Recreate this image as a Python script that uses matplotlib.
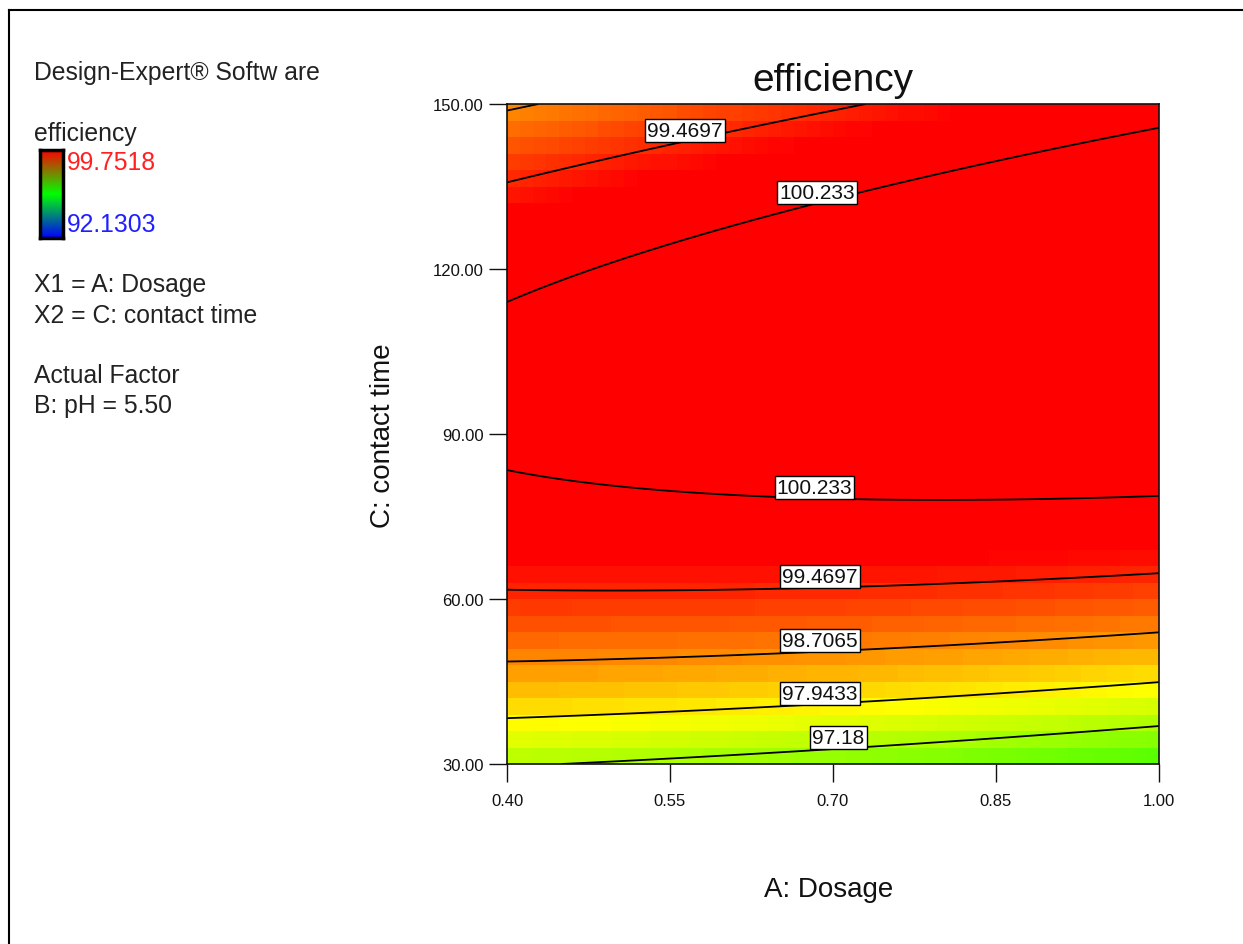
import numpy as np
import matplotlib
matplotlib.use("Agg")
import matplotlib.pyplot as plt
from matplotlib.colors import LinearSegmentedColormap, Normalize
from matplotlib.transforms import offset_copy
from matplotlib.lines import Line2D

plt.rcParams['font.family'] = ['Liberation Sans', 'DejaVu Sans']

# ---------------- data ----------------
# response-surface coefficients (coded units)
coef_b0 = 100.57
coef_A = 0.1575
coef_C = 1.245
coef_AC = 0.543
coef_AA = -0.074
coef_CC = -2.415

dosage_range = [0.40, 1.00]
time_range = [30.0, 150.0]

contour_levels = [97.18, 97.9433, 98.7065, 99.4697, 100.233]
label_points = [(0.561, 145.5), (0.683, 133.5), (0.683, 78.0), (0.688, 62.2),
                (0.688, 50.6), (0.688, 40.8), (0.705, 32.8)]

color_min = 92.1303
color_max = 99.7518

x_ticks = [0.40, 0.55, 0.70, 0.85, 1.00]
y_ticks = [30.0, 60.0, 90.0, 120.0, 150.0]

title = "efficiency"
x_label = "A: Dosage"
y_label = "C: contact time"
legend_lines = ["Design-Expert® Softw are", "efficiency",
                "X1 = A: Dosage", "X2 = C: contact time",
                "Actual Factor", "B: pH = 5.50"]


def response(A, C):
    a = (A - 0.7) / 0.3
    c = (C - 90.0) / 60.0
    return (coef_b0 + coef_A * a + coef_C * c + coef_AC * a * c
            + coef_AA * a * a + coef_CC * c * c)


# ---------------- figure ----------------
fig = plt.figure(figsize=(12.43, 9.45), dpi=100)
W, H = 1243, 945

def fx(px):
    return px / W

def fy(py):
    return 1 - py / H

ax = fig.add_axes([fx(507), fy(765), fx(1159) - fx(507), fy(105) - fy(765)])

cmap = LinearSegmentedColormap.from_list(
    "de", [(0.0, (0, 0, 1)), (0.25, (0, 1, 1)), (0.5, (0, 1, 0)),
           (0.75, (1, 1, 0)), (1.0, (1, 0, 0))])
cmap.set_over((1, 0, 0))
cmap.set_under((0, 0, 1))
norm = Normalize(vmin=color_min, vmax=color_max, clip=True)

# blocky fill like Design-Expert
nx, ny = 50, 40
xe = np.linspace(dosage_range[0], dosage_range[1], nx + 1)
ye = np.linspace(time_range[0], time_range[1], ny + 1)
xc = 0.5 * (xe[:-1] + xe[1:])
yc = 0.5 * (ye[:-1] + ye[1:])
XC, YC = np.meshgrid(xc, yc)
ax.pcolormesh(xe, ye, response(XC, YC), cmap=cmap, norm=norm, shading='flat')

# smooth contour lines
xf = np.linspace(dosage_range[0], dosage_range[1], 300)
yf = np.linspace(time_range[0], time_range[1], 300)
XF, YF = np.meshgrid(xf, yf)
cs = ax.contour(XF, YF, response(XF, YF), levels=contour_levels,
                colors='black', linewidths=1.3)

fmt = {lv: ("%g" % lv) for lv in contour_levels}
labels = ax.clabel(cs, levels=contour_levels, fmt=fmt, manual=label_points,
                   inline=False, fontsize=15)
off = offset_copy(ax.transData, fig=fig, x=0, y=11, units='dots')
for t in labels:
    t.set_rotation(0)
    t.set_transform(off)
    t.set_color('#111111')
    t.set_bbox(dict(facecolor='white', edgecolor='black', linewidth=1.0, pad=1.5))
    t.set_zorder(5)

ax.set_xlim(dosage_range)
ax.set_ylim(time_range)
ax.set_xticks(x_ticks)
ax.set_xticklabels(["%.2f" % v for v in x_ticks])
ax.set_yticks(y_ticks)
ax.set_yticklabels(["%.2f" % v for v in y_ticks])
ax.tick_params(direction='out', length=13, width=1.0, labelsize=12,
               colors='#111111')
ax.tick_params(axis='x', pad=8)
ax.tick_params(axis='y', pad=4)
for s in ax.spines.values():
    s.set_linewidth(1.2)
    s.set_color('#111111')

ax.set_title(title, fontsize=28, pad=10, color='#111111')
fig.text(fx(829), fy(890), x_label, fontsize=20, ha='center', va='center',
         color='#111111')
fig.text(fx(383), fy(436), y_label, fontsize=20, ha='center', va='center',
         rotation=90, color='#111111')

# ---------------- legend panel ----------------
txt_kw = dict(fontsize=17.8, ha='left', va='center', color='#222222')
fig.text(fx(34), fy(73), legend_lines[0], **txt_kw)
fig.text(fx(34), fy(134), legend_lines[1], **txt_kw)
fig.text(fx(67), fy(163), "%.4f" % color_max, fontsize=17.8, ha='left',
         va='center', color='#ff2020')
fig.text(fx(67), fy(225), "%.4f" % color_min, fontsize=17.8, ha='left',
         va='center', color='#2020ff')
fig.text(fx(34), fy(285), legend_lines[2], **txt_kw)
fig.text(fx(34), fy(316), legend_lines[3], **txt_kw)
fig.text(fx(34), fy(376), legend_lines[4], **txt_kw)
fig.text(fx(34), fy(406), legend_lines[5], **txt_kw)

cax = fig.add_axes([fx(40), fy(239), fx(63) - fx(40), fy(151) - fy(239)])
bar_cmap = LinearSegmentedColormap.from_list(
    "bar", [(0.0, (0, 0, 1)), (0.5, (0, 1, 0)), (1.0, (1, 0, 0))])
grad = np.linspace(0, 1, 256).reshape(-1, 1)
cax.imshow(grad, aspect='auto', cmap=bar_cmap, origin='lower')
cax.set_xticks([])
cax.set_yticks([])
for s in cax.spines.values():
    s.set_linewidth(2.5)
    s.set_color('black')

# outer frame lines (top and left)
fig.add_artist(Line2D([fx(9), 1.0], [fy(11), fy(11)], color='black', lw=1.5))
fig.add_artist(Line2D([fx(9), fx(9)], [fy(11), 0.0], color='black', lw=1.5))

fig.savefig("out.png", dpi=100)
